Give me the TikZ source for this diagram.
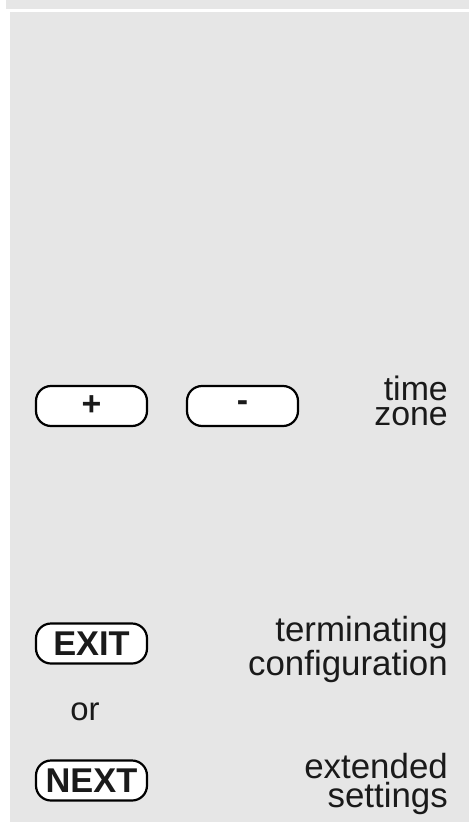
\documentclass[tikz,border=0pt]{standalone}
\usepackage{fontspec}
\setmainfont{Liberation Sans}
\definecolor{panel}{HTML}{E6E6E6}
\definecolor{ink}{HTML}{1A1A1A}
\begin{document}
\begin{tikzpicture}[x=1bp,y=-1bp,
  btn/.style={draw=black, line width=2.2bp, fill=white, rounded corners=15bp,
    minimum width=111bp, minimum height=40bp, inner sep=0pt, text=ink},
  lbl/.style={text=ink, inner sep=0pt, align=right, anchor=base east},
  btxt/.style={font=\bfseries\fontsize{34.5}{34.5}\selectfont}]
\useasboundingbox (0,0) rectangle (469,822);
\fill[white] (0,0) rectangle (469,822);
\fill[panel] (6,0) rectangle (469,9.5);
\fill[panel] (10,12.5) rectangle (469,822);
\node[btn, font=\bfseries\fontsize{34}{34}\selectfont] (plus) at (91.5,406) {+};
\node[btn, font=\bfseries\fontsize{34}{34}\selectfont] (minus) at (242.5,406) {-};
\node[lbl, font=\fontsize{34}{25}\selectfont] (tz) at (448,425) {time\\zone};
\node[btn, btxt] (exit) at (91.5,643.5) {EXIT};
\node[lbl, font=\fontsize{35}{27.5}\selectfont] (term) at (448,675) {terminating\\configuration};
\node[text=ink, font=\fontsize{33}{33}\selectfont, inner sep=0pt, anchor=base] (or) at (85,720) {or};
\node[btn, btxt] (next) at (91.5,780.5) {NEXT};
\node[lbl, font=\fontsize{35}{28.5}\selectfont] (ext) at (448,807) {extended\\settings};
\end{tikzpicture}
\end{document}
